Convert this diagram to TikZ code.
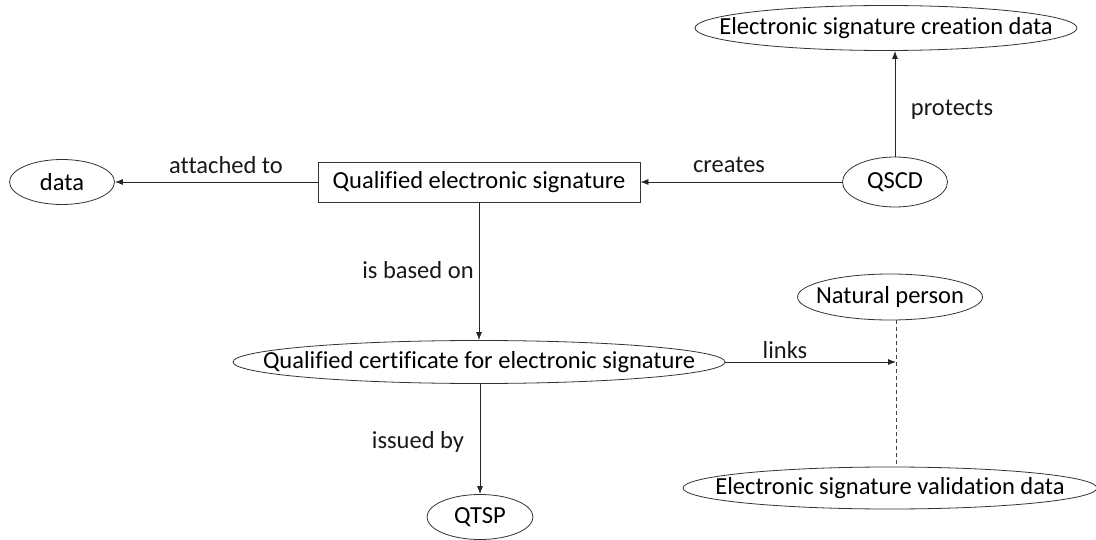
\documentclass[tikz,border=0pt]{standalone}
\usepackage{fontspec}
\setmainfont[Ligatures=NoCommon]{Carlito}
\usetikzlibrary{arrows.meta,shapes.geometric}
\tikzset{
  oval/.style={ellipse, draw=black!80, line width=0.8pt, inner sep=0pt, font=\fontsize{24.5}{29}\selectfont},
  rect/.style={rectangle, draw=black!80, line width=0.8pt, inner sep=0pt, minimum width=322pt, minimum height=40pt, font=\fontsize{24.5}{29}\selectfont},
  lbl/.style={inner sep=0pt, font=\fontsize{24.5}{29}\selectfont, text=black!90},
  link/.style={draw=black!85, line width=0.8pt, -{Latex[length=8pt,width=6pt]}},
  tie/.style={draw=black!75, line width=0.8pt, dashed, dash pattern=on 4pt off 3pt}
}
\newcommand{\ovaltext}[1]{\makebox[0pt]{#1}}
\begin{document}
\begin{tikzpicture}[x=1pt,y=-1pt]
\useasboundingbox (0,0) rectangle (1096,540);

% nodes
\node[oval, minimum width=382pt, minimum height=45pt] (escd) at (886,28) {\ovaltext{Electronic signature creation data}};
\node[oval, minimum width=105pt, minimum height=50pt] (qscd) at (895,182) {\ovaltext{QSCD}};
\node[rect] (qes) at (479,182) {\ovaltext{Qualified electronic signature}};
\node[oval, minimum width=105pt, minimum height=45pt] (data) at (62,182) {\ovaltext{data}};
\node[oval, minimum width=492pt, minimum height=43pt] (cert) at (479,362) {\ovaltext{Qualified certificate for electronic signature}};
\node[oval, minimum width=106pt, minimum height=45pt] (qtsp) at (480,517) {\ovaltext{QTSP}};
\node[oval, minimum width=185pt, minimum height=46pt] (np) at (890,297) {\ovaltext{Natural person}};
\node[oval, minimum width=414pt, minimum height=42pt] (esvd) at (890,488) {\ovaltext{Electronic signature validation data}};

\coordinate (tiept) at (896,362);

% labels
\node[lbl] (lprot) at (952,110) {protects};
\node[lbl] (lcre) at (729,165) {creates};
\node[lbl] (latt) at (226,165) {attached to};
\node[lbl] (lbas) at (418,270) {is based on};
\node[lbl] (liss) at (418,442) {issued by};
\node[lbl] (llnk) at (785,350) {links};

% connectors
\draw[link] (qscd.north) -- (qscd.north |- escd.south);
\draw[link] (qscd.west) -- (qes.east);
\draw[link] (qes.west) -- (data.east);
\draw[link] (qes.south) -- (qes.south |- cert.north);
\draw[link] (cert.south -| qtsp.north) -- (qtsp.north);
\draw[link] (cert.east) -- (tiept);
\draw[tie] (tiept |- np.south) -- (tiept |- esvd.north);
\end{tikzpicture}
\end{document}
